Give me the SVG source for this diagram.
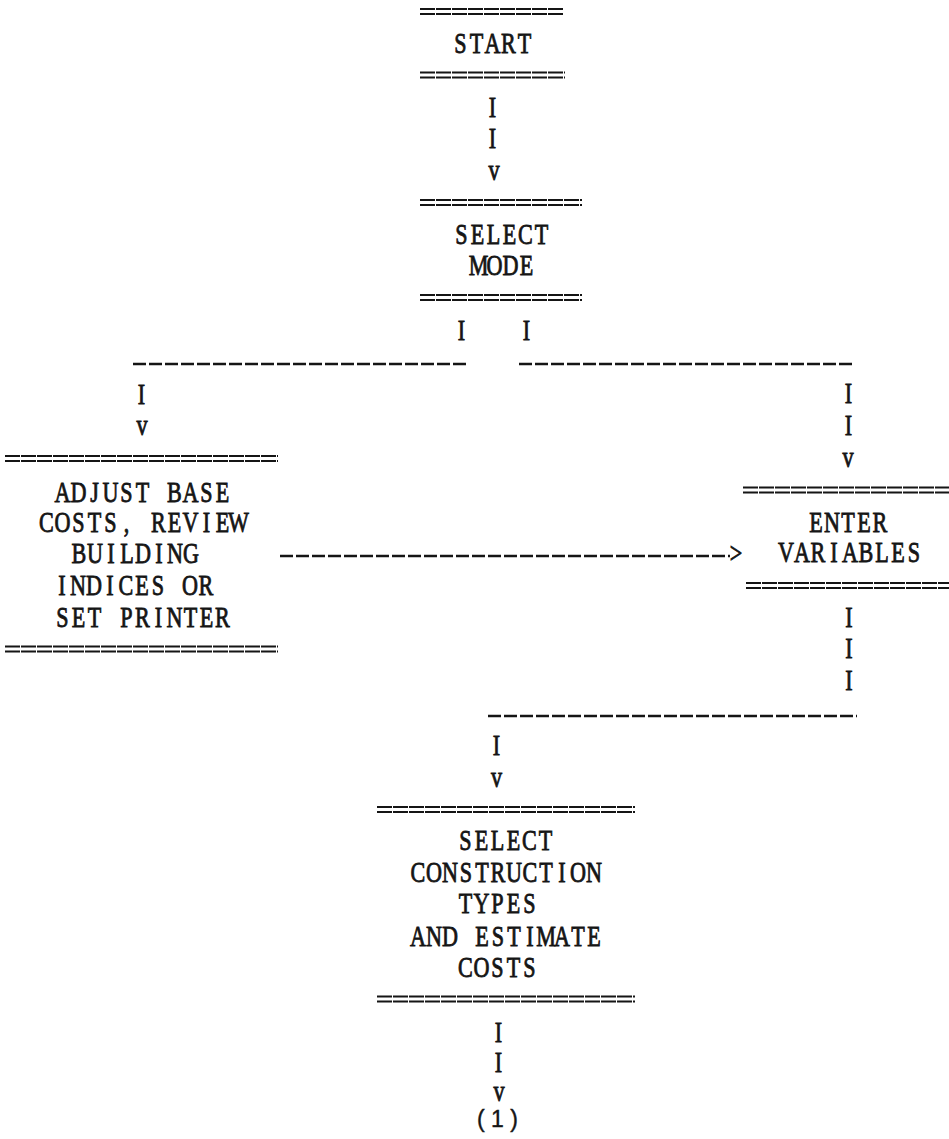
<svg xmlns="http://www.w3.org/2000/svg" width="949" height="1139" viewBox="0 0 949 1139">
<style>
.t{font-family:"Liberation Serif","Times New Roman",serif;font-size:29.5px;fill:#151515;stroke:#151515;stroke-width:0.85px;text-anchor:middle}
.n{font-family:"Liberation Sans",Arial,sans-serif;font-size:23px;fill:#151515;stroke:#151515;stroke-width:0.4px}
.r{stroke:#151515;stroke-width:2.2;fill:none;stroke-dasharray:15 1}
.d{stroke:#151515;stroke-width:2.6;fill:none;stroke-dasharray:13 3}
</style>
<rect width="949" height="1139" fill="#ffffff"/>
<g id="node-start">
<path class="r" d="M420,9H563M420,14H563M420,72.5H565M420,77.5H565"/>
<text class="t" transform="scale(0.75,1)" x="614 635.33 656.67 678 699.33" y="53">START</text>
</g>
<g id="node-select-mode">
<path class="r" d="M420,200H582M420,205H582M420,295H582M420,300H582"/>
<text class="t" transform="scale(0.75,1)" x="615.33 636.67 658 679.33 700.67 722" y="244">SELECT</text>
<text class="t" transform="scale(0.75,1)" x="638 659.33 680.67 702" y="275">MODE</text>
</g>
<g id="node-adjust">
<path class="r" d="M5,456H278M5,461H278M5,646.5H278M5,651.5H278"/>
<text class="t" transform="scale(0.75,1)" x="83.33 104.67 126 147.33 168.67 190 211.33 232.67 254 275.33 296.67" y="502">ADJUST BASE</text>
<text class="t" transform="scale(0.75,1)" x="62 83.33 104.67 126 147.33 168.67 190 211.33 232.67 254 275.33 296.67 318" y="532">COSTS, REVIEW</text>
<text class="t" transform="scale(0.75,1)" x="105.33 126.67 148 169.33 190.67 212 233.33 254.67" y="563">BUILDING</text>
<text class="t" transform="scale(0.75,1)" x="82.67 104 125.33 146.67 168 189.33 210.67 232 253.33 274.67" y="595">INDICES OR</text>
<text class="t" transform="scale(0.75,1)" x="83.33 104.67 126 147.33 168.67 190 211.33 232.67 254 275.33 296.67" y="627">SET PRINTER</text>
</g>
<g id="node-enter">
<path class="r" d="M743,487.5H949M743,492.5H949M746,583H949M746,588H949"/>
<text class="t" transform="scale(0.75,1)" x="1088 1109.33 1130.67 1152 1173.33" y="532">ENTER</text>
<text class="t" transform="scale(0.75,1)" x="1048 1069.33 1090.67 1112 1133.33 1154.67 1176 1197.33 1218.67" y="562">VARIABLES</text>
</g>
<g id="node-select-construction">
<path class="r" d="M377,807H635M377,812H635M377,996.5H635M377,1001.5H635"/>
<text class="t" transform="scale(0.75,1)" x="620.67 642 663.33 684.67 706 727.33" y="850">SELECT</text>
<text class="t" transform="scale(0.75,1)" x="557.33 578.67 600 621.33 642.67 664 685.33 706.67 728 749.33 770.67 792" y="882">CONSTRUCTION</text>
<text class="t" transform="scale(0.75,1)" x="620.67 642 663.33 684.67 706" y="913">TYPES</text>
<text class="t" transform="scale(0.75,1)" x="557.33 578.67 600 621.33 642.67 664 685.33 706.67 728 749.33 770.67 792" y="946">AND ESTIMATE</text>
<text class="t" transform="scale(0.75,1)" x="620.67 642 663.33 684.67 706" y="977">COSTS</text>
</g>
<g id="node-offpage">
<text class="n" x="477" y="1127" textLength="41">(1)</text>
</g>
<g id="connectors">
<path class="d" d="M133,364H469M519,364H854M280,556H730M488,716H857"/>
<text class="t" transform="scale(0.75,1)" x="656.67" y="117">I</text>
<text class="t" transform="scale(0.75,1)" x="656.67" y="148">I</text>
<text class="t" transform="scale(0.75,1)" x="658.67" y="180">v</text>
<text class="t" transform="scale(0.75,1)" x="615.33" y="340">I</text>
<text class="t" transform="scale(0.75,1)" x="702" y="340">I</text>
<text class="t" transform="scale(0.75,1)" x="188.67" y="404">I</text>
<text class="t" transform="scale(0.75,1)" x="189.33" y="435">v</text>
<text class="t" transform="scale(0.75,1)" x="1131.33" y="403">I</text>
<text class="t" transform="scale(0.75,1)" x="1131.33" y="435">I</text>
<text class="t" transform="scale(0.75,1)" x="1130.67" y="467">v</text>
<text class="t" transform="scale(0.75,1)" x="981.33" y="563">&gt;</text>
<text class="t" transform="scale(0.75,1)" x="1132" y="627">I</text>
<text class="t" transform="scale(0.75,1)" x="1132" y="658">I</text>
<text class="t" transform="scale(0.75,1)" x="1132" y="690">I</text>
<text class="t" transform="scale(0.75,1)" x="662" y="755">I</text>
<text class="t" transform="scale(0.75,1)" x="662" y="787">v</text>
<text class="t" transform="scale(0.75,1)" x="664.67" y="1042">I</text>
<text class="t" transform="scale(0.75,1)" x="664.67" y="1072">I</text>
<text class="t" transform="scale(0.75,1)" x="665.33" y="1101">v</text>
</g>
</svg>
